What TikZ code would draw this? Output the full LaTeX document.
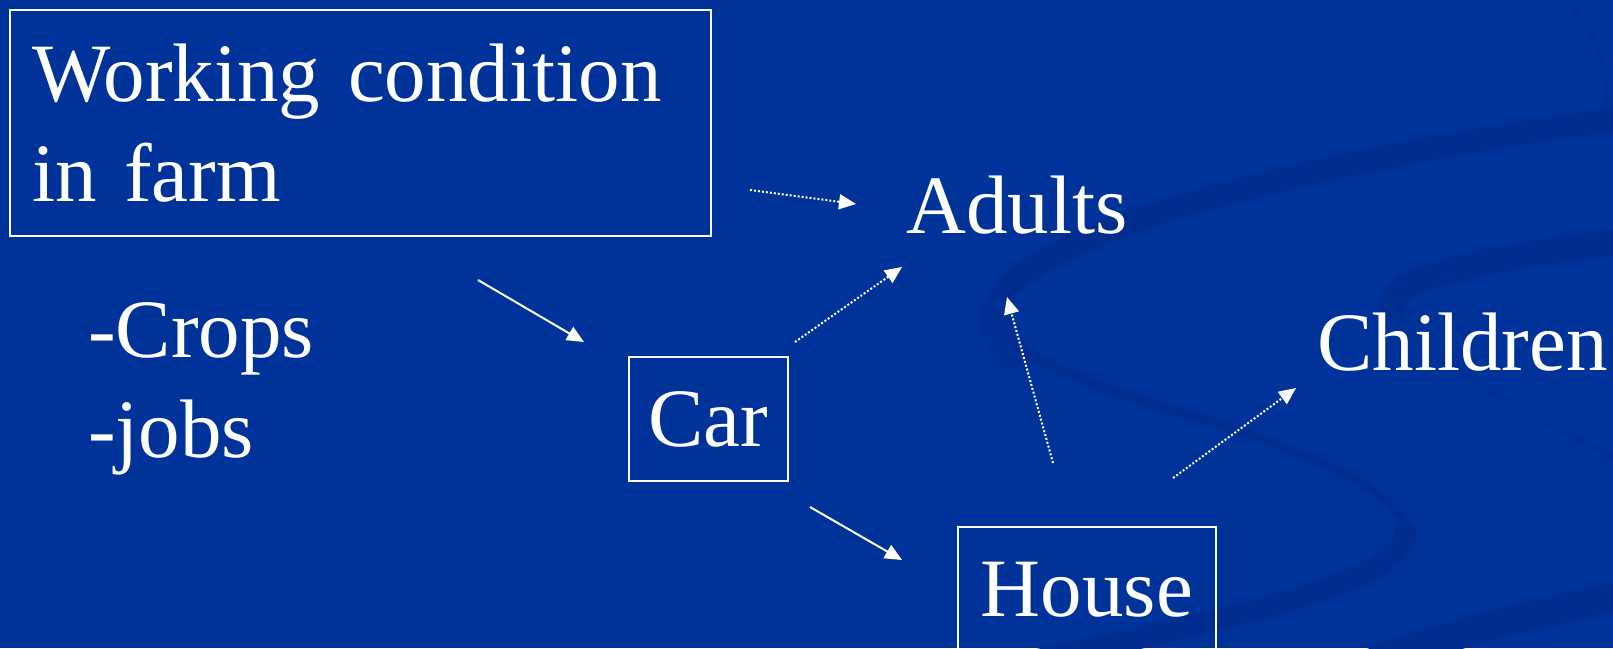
\documentclass[tikz,border=0pt]{standalone}
\usepackage{fontspec}
\setmainfont{Liberation Serif}
\usetikzlibrary{arrows.meta}
\definecolor{bgblue}{RGB}{0,51,153}
\definecolor{swoosh}{RGB}{0,45,142}
\definecolor{swooshlight}{RGB}{0,48,148}
\tikzset{
  txt/.style={text=white, inner sep=0pt, font=\fontsize{83}{100}\selectfont},
  boxnode/.style={draw=white, line width=2pt, text=white, font=\fontsize{83}{100}\selectfont},
  solidarrow/.style={white, line width=2pt, -{Triangle[length=17pt,width=15pt]}},
  dotarrow/.style={white, line width=2pt, dash pattern=on 2pt off 2pt, -{Triangle[length=17pt,width=15pt]}},
  band/.style={swoosh, line cap=round},
  lightband/.style={swooshlight, line cap=round}
}
\begin{document}
\begin{tikzpicture}[x=1pt, y=-1pt]
\useasboundingbox (0,0) rectangle (1613,648);
\clip (0,0) rectangle (1613,648);
\fill[bgblue] (0,0) rectangle (1613,648);
% background swooshes
\draw[lightband, line width=6pt] (1575,10) .. controls (1610,55) and (1612,100) .. (1598,122);
\draw[band, line width=24pt] (1640,116) .. controls (1300,160) and (990,240) .. (996,316);
\draw[lightband, line width=34pt] (996,316) .. controls (998,335) and (1005,350) .. (1015,358);
\draw[band, line width=10pt] (996,316) .. controls (1010,370) and (1150,400) .. (1250,435);
\draw[band, line width=8pt] (1250,435) .. controls (1340,468) and (1400,495) .. (1405,530);
\draw[band, line width=22pt] (1405,530) .. controls (1410,580) and (1250,615) .. (1000,668);
\draw[band, line width=26pt] (1640,240) .. controls (1500,255) and (1392,275) .. (1392,305);
\draw[lightband, line width=8pt] (1392,305) .. controls (1400,345) and (1500,400) .. (1640,470);
\draw[band, line width=30pt] (1640,592) .. controls (1540,612) and (1440,635) .. (1360,668);
% boxes and texts
\node[boxnode, anchor=north west, minimum width=701pt, minimum height=226pt, inner sep=0pt, text width=657pt, align=left] (farm) at (9,9) {Working condition\\in farm};
\node[txt, anchor=base west] (crops) at (88,357) {-Crops};
\node[txt, anchor=base west] (jobs) at (88,457) {-jobs};
\node[boxnode, minimum width=159pt, minimum height=124pt, inner sep=0pt] (car) at (708.5,419) {Car};
\node[boxnode, anchor=north, minimum width=258pt, inner xsep=0pt, inner ysep=34pt, text height=55pt, text depth=40pt] (house) at (1087,526) {House};
\node[txt, anchor=base west] (adults) at (906,233) {Adults};
\node[txt, anchor=base west] (children) at (1317,370) {Children};
% connector end points
\coordinate (a1s) at (478,280); \coordinate (a1e) at (584,342);
\coordinate (a2s) at (750,190); \coordinate (a2e) at (856,204);
\coordinate (a3s) at (795,342); \coordinate (a3e) at (902,267);
\coordinate (a4s) at (810,507); \coordinate (a4e) at (902,560);
\coordinate (a5s) at (1053,463); \coordinate (a5e) at (1007,297);
\coordinate (a6s) at (1173,478); \coordinate (a6e) at (1296,388);
\draw[solidarrow] (a1s) -- (a1e);
\draw[dotarrow] (a2s) -- (a2e);
\draw[dotarrow] (a3s) -- (a3e);
\draw[solidarrow] (a4s) -- (a4e);
\draw[dotarrow] (a5s) -- (a5e);
\draw[dotarrow] (a6s) -- (a6e);
\end{tikzpicture}
\end{document}
